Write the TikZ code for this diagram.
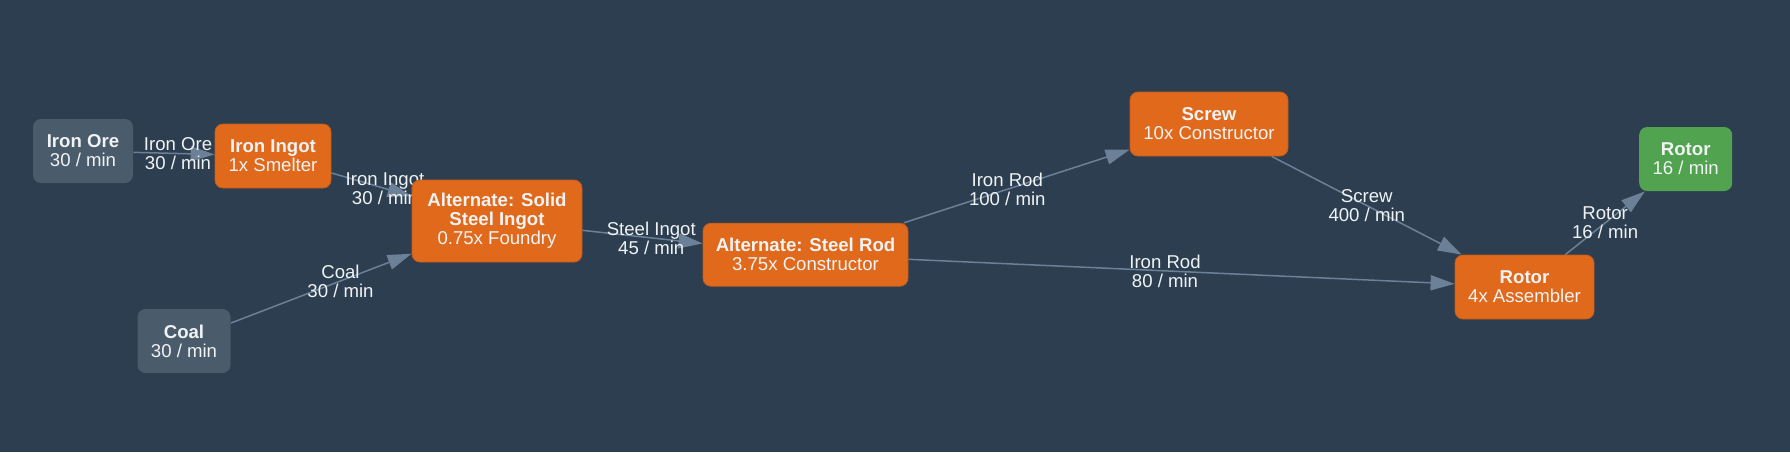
\documentclass[tikz,border=0pt]{standalone}
\usepackage{fontspec}
\setmainfont{Liberation Sans}
\usetikzlibrary{arrows.meta,calc}
\definecolor{bg}{HTML}{2C3E50}
\definecolor{proc}{HTML}{E0691C}
\definecolor{raw}{HTML}{4A5B6C}
\definecolor{outc}{HTML}{52A350}
\definecolor{edgec}{HTML}{6C8197}
\definecolor{txt}{HTML}{F0F3F4}
\pgfdeclarelayer{bglayer}
\pgfdeclarelayer{edges}
\pgfsetlayers{bglayer,edges,main}
\begin{document}
\begin{tikzpicture}[x=0.5pt,y=-0.5pt,
  font=\fontsize{9.3pt}{9.5pt}\selectfont,
  box/.style={rounded corners=4pt, inner sep=0pt, align=center, text=txt, minimum height=32pt},
  procbox/.style={box, fill=proc, draw=proc!88!black, line width=0.4pt},
  rawbox/.style={box, fill=raw},
  outbox/.style={box, fill=outc},
  flow/.style={draw=edgec, line width=0.75pt, -{Triangle[length=12pt,width=7.5pt]}},
  elabel/.style={text=txt, align=center}]
\begin{pgfonlayer}{bglayer}
\fill[bg] (0,0) rectangle (1790,452);
\end{pgfonlayer}
\useasboundingbox (0,0) rectangle (1790,452);

\node[rawbox, minimum width=50pt] (ore) at (83,151) {\textbf{Iron Ore}\\30 / min};
\node[procbox, minimum width=58pt] (ingot) at (273,156) {\textbf{Iron Ingot}\\1x Smelter};
\node[rawbox, minimum width=46.5pt] (coal) at (184,341) {\textbf{Coal}\\30 / min};
\node[procbox, minimum width=85pt, minimum height=41pt] (solid) at (497,221) {\textbf{Alternate: Solid}\\\textbf{Steel Ingot}\\0.75x Foundry};
\node[procbox, minimum width=102.5pt, minimum height=31.5pt] (rod) at (805.5,254.7) {\textbf{Alternate: Steel Rod}\\3.75x Constructor};
\node[procbox, minimum width=79pt] (screw) at (1209,124) {\textbf{Screw}\\10x Constructor};
\node[procbox, minimum width=69.5pt] (rotorA) at (1524.5,287) {\textbf{Rotor}\\4x Assembler};
\node[outbox, minimum width=46.5pt] (rotorOut) at (1685.7,159) {\textbf{Rotor}\\16 / min};

\begin{pgfonlayer}{edges}
\draw[flow] (ore) -- (ingot);
\node[elabel] (l1) at ($(ore.center)!0.5!(ingot.center)$) {Iron Ore\\30 / min};
\draw[flow] (ingot) -- (solid);
\node[elabel] (l2) at ($(ingot.center)!0.5!(solid.center)$) {Iron Ingot\\30 / min};
\draw[flow] (coal) -- (solid);
\node[elabel] (l3) at ($(coal.center)!0.5!(solid.center)$) {Coal\\30 / min};
\draw[flow] (solid) -- (rod);
\node[elabel] (l4) at ($(solid.center)!0.5!(rod.center)$) {Steel Ingot\\45 / min};
\draw[flow] (rod) -- (screw);
\node[elabel] (l5) at ($(rod.center)!0.5!(screw.center)$) {Iron Rod\\100 / min};
\draw[flow] (rod) -- (rotorA);
\node[elabel] (l6) at ($(rod.center)!0.5!(rotorA.center)$) {Iron Rod\\80 / min};
\draw[flow] (screw) -- (rotorA);
\node[elabel] (l7) at ($(screw.center)!0.5!(rotorA.center)$) {Screw\\400 / min};
\draw[flow] (rotorA) -- (rotorOut);
\node[elabel] (l8) at ($(rotorA.center)!0.5!(rotorOut.center)$) {Rotor\\16 / min};
\end{pgfonlayer}
\end{tikzpicture}
\end{document}
